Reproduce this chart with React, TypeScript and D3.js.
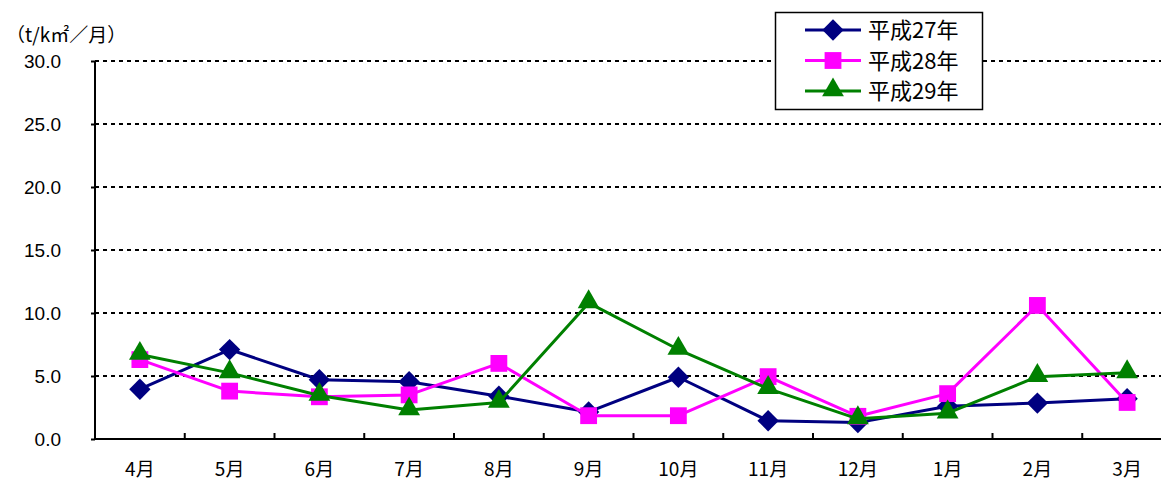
import * as d3 from 'd3';
import React, { useEffect, useRef } from 'react';

const months = ['4月', '5月', '6月', '7月', '8月', '9月', '10月', '11月', '12月', '1月', '2月', '3月'];
const h27 = [3.95, 7.1, 4.7, 4.55, 3.4, 2.15, 4.9, 1.45, 1.3, 2.6, 2.85, 3.2];
const h28 = [6.3, 3.8, 3.35, 3.5, 6.0, 1.85, 1.85, 4.95, 1.8, 3.6, 10.6, 2.9];
const h29 = [6.7, 5.25, 3.45, 2.3, 2.9, 10.8, 7.1, 4.0, 1.6, 2.05, 4.95, 5.25];
const yTicks = [0, 5, 10, 15, 20, 25, 30];
const seriesNames = ['平成27年', '平成28年', '平成29年'];

const App: React.FC = () => {
  const svgRef = useRef<SVGSVGElement>(null);

  useEffect(() => {
    if (!svgRef.current) return;
    const svg = d3.select(svgRef.current);
    svg.selectAll('*').remove();

    const left = 95;
    const top = 61;
    const bottom = 439;
    const band = 89.75;
    const numFont = '"Liberation Sans", Arial, "Noto Sans CJK JP", sans-serif';
    const jpFont = '"Noto Sans CJK JP", sans-serif';

    const x = d3.scaleBand<string>()
      .domain(months)
      .range([left, left + band * months.length]);
    const y = d3.scaleLinear().domain([0, 30]).range([bottom, top]);
    const cx = (m: string) => x(m)! + x.bandwidth() / 2;

    // grid lines
    svg.append('g')
      .selectAll('line')
      .data(yTicks.filter(t => t > 0))
      .join('line')
      .attr('x1', left)
      .attr('x2', 1161)
      .attr('y1', d => y(d))
      .attr('y2', d => y(d))
      .attr('stroke', '#000')
      .attr('stroke-width', 2)
      .attr('stroke-dasharray', '4,4');

    // y axis
    const yAxis = svg.append('g')
      .attr('transform', `translate(${left},0)`)
      .call(d3.axisLeft(y).tickValues(yTicks).tickFormat(d3.format('.1f')).tickSize(4).tickPadding(30));
    yAxis.select('.domain').attr('stroke-width', 2).attr('d', `M0,${top}V${bottom}`);
    yAxis.selectAll('.tick line').attr('stroke-width', 2);
    yAxis.selectAll('text')
      .attr('font-size', 19)
      .attr('font-family', numFont)
      .attr('fill', '#000');

    // x axis
    svg.append('line')
      .attr('x1', left).attr('x2', 1161)
      .attr('y1', bottom).attr('y2', bottom)
      .attr('stroke', '#000').attr('stroke-width', 2);
    svg.append('g')
      .selectAll('line')
      .data(months.slice(1))
      .join('line')
      .attr('x1', d => x(d)!)
      .attr('x2', d => x(d)!)
      .attr('y1', bottom)
      .attr('y2', bottom - 6)
      .attr('stroke', '#000')
      .attr('stroke-width', 2);
    svg.append('g')
      .selectAll('text')
      .data(months)
      .join('text')
      .attr('x', d => cx(d))
      .attr('y', 476)
      .attr('text-anchor', 'middle')
      .attr('font-size', 19)
      .attr('font-family', jpFont)
      .text(d => d);

    // unit label
    svg.append('text')
      .attr('x', 6)
      .attr('y', 42)
      .attr('font-size', 19)
      .attr('font-family', jpFont)
      .text('（t/k㎡／月）');

    const colors = ['#000080', '#ff00ff', '#008000'];
    const symbols = [d3.symbolDiamond2, d3.symbolSquare2, d3.symbolTriangle2];
    const sizes = [290, 360, 340];
    const data = [h27, h28, h29];

    const line = d3.line<number>()
      .x((_, i) => cx(months[i]))
      .y(d => y(d));

    const drawMarker = (g: any, i: number, px: number, py: number) => {
      const sym = d3.symbol().type(symbols[i]).size(sizes[i]);
      g.append('path')
        .attr('d', sym()!)
        .attr('transform', `translate(${px},${py + (i === 2 ? -1 : 0)})`)
        .attr('fill', colors[i]);
    };

    data.forEach((vals, i) => {
      const g = svg.append('g');
      g.append('path')
        .datum(vals)
        .attr('fill', 'none')
        .attr('stroke', colors[i])
        .attr('stroke-width', 3)
        .attr('stroke-linejoin', 'round')
        .attr('d', line);
      vals.forEach((v, j) => drawMarker(g, i, cx(months[j]), y(v)));
    });

    // legend
    const lg = svg.append('g');
    lg.append('rect')
      .attr('x', 775.5).attr('y', 12.5)
      .attr('width', 207).attr('height', 97)
      .attr('fill', '#fff')
      .attr('stroke', '#000')
      .attr('stroke-width', 1.5);
    seriesNames.forEach((name, i) => {
      const ly = 30 + i * 30.5;
      lg.append('line')
        .attr('x1', 805).attr('x2', 861)
        .attr('y1', ly).attr('y2', ly)
        .attr('stroke', colors[i]).attr('stroke-width', 3);
      drawMarker(lg, i, 833, ly);
      lg.append('text')
        .attr('x', 868)
        .attr('y', ly + 8)
        .attr('font-size', 22)
        .attr('font-family', jpFont)
        .text(name);
    });
  }, []);

  return (
    <div style={{ position: 'absolute', left: 0, top: 0 }}>
      <svg ref={svgRef} width={1161} height={484} style={{ display: 'block', background: '#fff' }} />
    </div>
  );
};

export default App;
